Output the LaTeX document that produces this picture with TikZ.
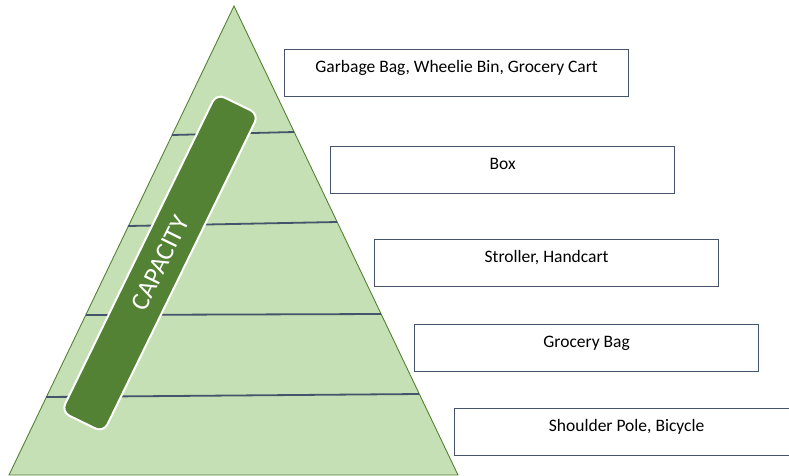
\documentclass[tikz,border=0pt]{standalone}
\usepackage{fontspec}
\setmainfont{Carlito}
\definecolor{pyrfill}{HTML}{C5E0B4}
\definecolor{pyrgreen}{HTML}{548235}
\definecolor{slate}{HTML}{44546A}
\begin{document}
\begin{tikzpicture}[x=1pt, y=-1pt,
    itembox/.style={draw=slate, line width=1.2pt, fill=white, minimum width=344pt, minimum height=47pt, anchor=north west},
    itemlabel/.style={font=\fontsize{17.5}{21}\selectfont, inner sep=0pt, text height=12.5pt, anchor=north, yshift=-11pt},
    tier/.style={slate, line width=1.8pt},
    capbar/.style={rotate=64, fill=pyrgreen, draw=white, line width=2pt, rounded corners=9pt, minimum width=354pt, minimum height=47pt, text=white, font=\fontsize{26}{30}\selectfont}]
    \useasboundingbox (0,0) rectangle (789,475);
    \clip (0,0) rectangle (789,475);

    % Draw the pyramid
    \draw[pyrgreen, fill=pyrfill, line width=0.9pt] (234,6) -- (458,475) -- (9,475) -- cycle;

    % Tier lines across the pyramid
    \draw[tier] (172,135) -- (294,132);
    \draw[tier] (128,226) -- (337,222);
    \draw[tier] (86,315) -- (381,314);
    \draw[tier] (46,397) -- (419,394);

    % The slanted capacity bar
    \node[capbar] (cap) at (160,263) {CAPACITY};

    % Boxes for each tier
    \node[itembox, label={[itemlabel]north:Garbage Bag, Wheelie Bin, Grocery Cart}] (bag) at (284,49) {};
    \node[itembox, label={[itemlabel]north:Box}] (box) at (330,146) {};
    \node[itembox, label={[itemlabel]north:Stroller, Handcart}] (stroller) at (374,239) {};
    \node[itembox, label={[itemlabel]north:Grocery Bag}] (grocery) at (414,324) {};
    \node[itembox, label={[itemlabel]north:Shoulder Pole, Bicycle}] (pole) at (454,408) {};
\end{tikzpicture}
\end{document}
